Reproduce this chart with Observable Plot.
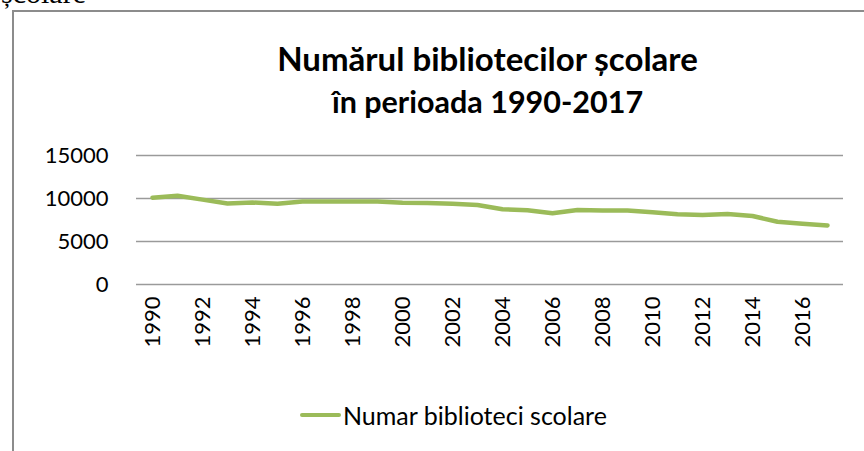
<!DOCTYPE html>
<html>
<head>
<meta charset="utf-8">
<script src="https://cdn.jsdelivr.net/npm/d3@7"></script>
<script src="https://cdn.jsdelivr.net/npm/@observablehq/plot@0.6"></script>
<style>
  html, body { margin: 0; padding: 0; background: #fff; }
  #wrap { position: relative; width: 864px; height: 451px; overflow: hidden; font-family: Lato, "Open Sans", sans-serif; }
  #frag { position: absolute; left: 1px; top: -24px; font-family: "Liberation Serif", serif; font-size: 30px; color: #000; }
  #box { position: absolute; left: 12px; top: 10px; width: 900px; height: 500px; border-left: 2.5px solid #8c8c8c; border-top: 2.5px solid #8c8c8c; }
  #title { position: absolute; left: 0; width: 975px; top: 37px; text-align: center; font-weight: bold; font-size: 33px; line-height: 42px; color: #000; }
  #title .l2 { font-size: 30.5px; }
  #legend { position: absolute; left: 300px; top: 400px; font-size: 25px; color: #000; display: flex; align-items: center; }
  #legend .sw { width: 41px; height: 4.5px; background: #9bbb59; border-radius: 2px; margin-right: 2px; }
  #chart { position: absolute; left: 0; top: 0; }
</style>
</head>
<body>
<div id="wrap">
  <div id="frag">școlare</div>
  <div id="box"></div>
  <div id="chart"></div>
  <div id="title">Numărul bibliotecilor școlare<br><span class="l2">în perioada 1990-2017</span></div>
  <div id="legend"><span class="sw"></span><span id="legendLabel"></span></div>
</div>
<script>
const seriesName = "Numar biblioteci scolare";
const years = [1990,1991,1992,1993,1994,1995,1996,1997,1998,1999,2000,2001,2002,2003,2004,2005,2006,2007,2008,2009,2010,2011,2012,2013,2014,2015,2016,2017];
const values = [10100,10330,9870,9420,9530,9380,9650,9650,9650,9650,9500,9490,9380,9250,8750,8640,8280,8670,8600,8600,8400,8160,8080,8200,7960,7300,7070,6870];
const yTicks = [0,5000,10000,15000];
const xTicks = years.filter(y => y % 2 === 0);

const data = years.map((y, i) => ({year: y, value: values[i]}));
document.getElementById("legendLabel").textContent = seriesName;

const chart = Plot.plot({
  width: 864,
  height: 451,
  marginLeft: 136,
  marginRight: 21,
  marginTop: 155,
  marginBottom: 167,
  style: {background: "transparent", fontFamily: "Lato, 'Open Sans', sans-serif"},
  x: {type: "point", domain: years, padding: 0.5},
  y: {domain: [0, 15000]},
  marks: [
    Plot.gridY(yTicks, {stroke: "#9a9a9a", strokeOpacity: 1, strokeWidth: 1.5}),
    Plot.axisY(yTicks, {tickSize: 0, tickPadding: 28, fontSize: 22, fill: "#000", label: null, tickFormat: d => String(d)}),
    Plot.axisX(xTicks, {tickSize: 0, tickPadding: 12, tickRotate: -90, fontSize: 22, fill: "#000", label: null, tickFormat: d => String(d)}),
    Plot.line(data, {x: "year", y: "value", stroke: "#9bbb59", strokeWidth: 4.5, strokeLinecap: "round", strokeLinejoin: "round", curve: "linear"})
  ]
});
document.getElementById("chart").appendChild(chart);
</script>
</body>
</html>
